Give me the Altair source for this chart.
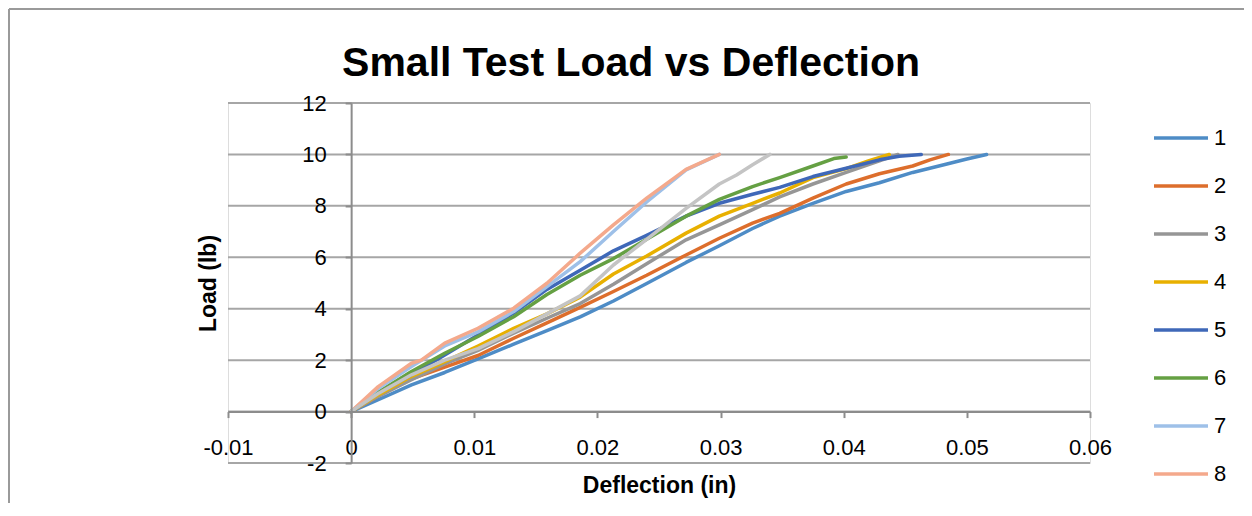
import altair as alt
import pandas as pd

# ---- data ----
series_names = ["1", "2", "3", "4", "5", "6", "7", "8", "9"]
legend_names = ["1", "2", "3", "4", "5", "6", "7", "8"]
series_colors = ["#4E8CC6", "#DD6E2C", "#969696", "#E8B000", "#3F68B8",
                 "#65A043", "#9EC0E8", "#F4A98C", "#C4C4C4"]

x1 = [0, 0.0022, 0.0049, 0.0076, 0.0103, 0.0132, 0.0159, 0.0186, 0.0213, 0.0240,
      0.0272, 0.0299, 0.0326, 0.0348, 0.0375, 0.0402, 0.0429, 0.0456, 0.0483, 0.0500, 0.0516]
y1 = [0, 0.46, 1.04, 1.52, 2.05, 2.62, 3.15, 3.68, 4.30, 4.98,
      5.80, 6.45, 7.12, 7.60, 8.10, 8.56, 8.90, 9.30, 9.62, 9.82, 10.0]

x2 = [0, 0.0022, 0.0049, 0.0076, 0.0103, 0.0132, 0.0159, 0.0186, 0.0213, 0.0240,
      0.0272, 0.0299, 0.0326, 0.0348, 0.0375, 0.0402, 0.0429, 0.0456, 0.0470, 0.0485]
y2 = [0, 0.60, 1.27, 1.73, 2.18, 2.85, 3.45, 4.05, 4.67, 5.30,
      6.09, 6.74, 7.33, 7.71, 8.30, 8.85, 9.25, 9.55, 9.79, 10.0]

x3 = [0, 0.0022, 0.0049, 0.0076, 0.0103, 0.0132, 0.0159, 0.0186, 0.0213, 0.0240,
      0.0272, 0.0299, 0.0326, 0.0348, 0.0375, 0.0402, 0.0429, 0.0444]
y3 = [0, 0.60, 1.24, 1.85, 2.38, 3.05, 3.63, 4.20, 4.95, 5.75,
      6.68, 7.26, 7.85, 8.35, 8.85, 9.30, 9.75, 10.0]

x4 = [0, 0.0022, 0.0049, 0.0076, 0.0103, 0.0132, 0.0159, 0.0186, 0.0213, 0.0240,
      0.0272, 0.0299, 0.0326, 0.0348, 0.0375, 0.0402, 0.0420, 0.0437]
y4 = [0, 0.65, 1.37, 1.94, 2.55, 3.24, 3.80, 4.45, 5.35, 6.05,
      6.94, 7.60, 8.10, 8.50, 9.10, 9.45, 9.75, 10.0]

x5 = [0, 0.0022, 0.0049, 0.0076, 0.0103, 0.0132, 0.0159, 0.0186, 0.0213, 0.0240,
      0.0272, 0.0299, 0.0326, 0.0348, 0.0375, 0.0402, 0.0429, 0.0445, 0.0463]
y5 = [0, 0.72, 1.43, 2.20, 2.98, 3.83, 4.75, 5.50, 6.25, 6.85,
      7.60, 8.10, 8.45, 8.72, 9.14, 9.46, 9.79, 9.93, 10.0]

x6 = [0, 0.0022, 0.0049, 0.0076, 0.0103, 0.0132, 0.0159, 0.0186, 0.0213, 0.0240,
      0.0272, 0.0299, 0.0326, 0.0348, 0.0375, 0.0392, 0.0402]
y6 = [0, 0.75, 1.56, 2.27, 2.92, 3.69, 4.55, 5.30, 5.95, 6.70,
      7.60, 8.25, 8.75, 9.10, 9.55, 9.84, 9.90]

x7 = [0, 0.0022, 0.0049, 0.0076, 0.0103, 0.0132, 0.0159, 0.0186, 0.0213, 0.0240,
      0.0272, 0.0299]
y7 = [0, 0.90, 1.75, 2.55, 3.10, 3.89, 4.86, 5.83, 7.00, 8.15,
      9.40, 10.0]

x8 = [0, 0.0022, 0.0049, 0.0057, 0.0076, 0.0103, 0.0132, 0.0159, 0.0186, 0.0213,
      0.0240, 0.0272, 0.0299]
y8 = [0, 0.97, 1.88, 2.00, 2.66, 3.24, 4.02, 4.99, 6.16, 7.26,
      8.30, 9.42, 10.0]

x9 = [0, 0.0022, 0.0049, 0.0076, 0.0103, 0.0132, 0.0159, 0.0186, 0.0213, 0.0240,
      0.0272, 0.0299, 0.0313, 0.0326, 0.0340]
y9 = [0, 0.70, 1.43, 2.00, 2.45, 3.11, 3.80, 4.50, 5.70, 6.70,
      7.90, 8.85, 9.20, 9.60, 10.0]

x_ticks = [-0.01, 0, 0.01, 0.02, 0.03, 0.04, 0.05, 0.06]
y_ticks = [-2, 0, 2, 4, 6, 8, 10, 12]

all_x = [x1, x2, x3, x4, x5, x6, x7, x8, x9]
all_y = [y1, y2, y3, y4, y5, y6, y7, y8, y9]

rows = []
for name, xs, ys in zip(series_names, all_x, all_y):
    for i, (a, b) in enumerate(zip(xs, ys)):
        rows.append({"series": name, "defl": a, "load": b, "idx": i})
df = pd.DataFrame(rows)

W, H = 862, 360
X_OFF = -W * 0.01 / 0.07      # y axis sits at deflection 0
Y_OFF = -H * 2 / 14           # x axis sits at load 0

FONT = "Liberation Sans"
AXIS_COL = "#8C8C8C"
GRID_COL = "#A6A6A6"

xscale = alt.Scale(domain=[-0.01, 0.06], nice=False, zero=False)
yscale = alt.Scale(domain=[-2, 12], nice=False, zero=False)

y_axis = alt.Axis(
    values=y_ticks, labelExpr="'' + datum.value", title="Load (lb)",
    offset=X_OFF, grid=False, domainColor=AXIS_COL, domainWidth=2,
    tickColor=AXIS_COL, tickWidth=2, tickSize=6, labelPadding=19,
    labelFont=FONT, labelFontSize=22, labelColor="#000000",
    titleFont=FONT, titleFontSize=23, titleFontWeight="bold", titleColor="#000000",
    titleX=-20 + X_OFF, titleY=H / 2, titleBaseline="middle", titleAlign="center",
    titleAngle=270, labelFlush=False, labelOverlap=False, zindex=1)

x_axis = alt.Axis(
    values=x_ticks, labelExpr="'' + datum.value", title="Deflection (in)",
    offset=Y_OFF, grid=False, domainColor=AXIS_COL, domainWidth=2,
    tickColor=AXIS_COL, tickWidth=2, tickSize=6, labelPadding=20,
    labelFont=FONT, labelFontSize=22, labelColor="#000000",
    titleFont=FONT, titleFontSize=23, titleFontWeight="bold", titleColor="#000000",
    titleX=W / 2, titleY=74, titleBaseline="middle", titleAlign="center",
    labelFlush=False, labelOverlap=False, zindex=1)

grid = alt.Chart(pd.DataFrame({"g": y_ticks})).mark_rule(
    color=GRID_COL, strokeWidth=2
).encode(y=alt.Y("g:Q", scale=yscale, axis=y_axis, title="Load (lb)"))

lines = alt.Chart(df).mark_line(
    strokeWidth=3.5, strokeCap="round", strokeJoin="round"
).encode(
    x=alt.X("defl:Q", scale=xscale, axis=x_axis, title="Deflection (in)"),
    y=alt.Y("load:Q", scale=yscale, axis=y_axis, title="Load (lb)"),
    color=alt.Color("series:N", scale=alt.Scale(domain=series_names, range=series_colors),
                    legend=alt.Legend(
                        title=None, orient="none", legendX=960, legendY=24,
                        values=legend_names,
                        symbolType="M-5,0H1", symbolSize=324, symbolStrokeWidth=3.5,
                        labelFont=FONT, labelFontSize=22, labelColor="#000000",
                        labelOffset=4, rowPadding=26, padding=0)),
    order="idx:Q",
)

frame_left = alt.Chart(pd.DataFrame({"a": [0]})).mark_rule(
    color="#9A9A9A", strokeWidth=2
).encode(x=alt.value(-219), y=alt.value(-94), y2=alt.value(420))
frame_top = alt.Chart(pd.DataFrame({"a": [0]})).mark_rule(
    color="#9A9A9A", strokeWidth=2
).encode(x=alt.value(-219), x2=alt.value(1100), y=alt.value(-94))

chart = alt.layer(grid, lines, frame_left, frame_top).properties(
    width=W, height=H,
    title=alt.TitleParams(
        "Small Test Load vs Deflection", font=FONT,
        fontSize=41, fontWeight="bold", color="#000000",
        anchor="middle", frame="group", dx=-28, offset=0,
        baseline="alphabetic", dy=109),
    autosize=alt.AutoSizeParams(type="none"),
    padding={"left": 220, "top": 95, "right": 154, "bottom": 40},
).configure_view(stroke=None).configure(background="white")

chart.save("out.html", embed_options={"renderer": "svg", "actions": False})
